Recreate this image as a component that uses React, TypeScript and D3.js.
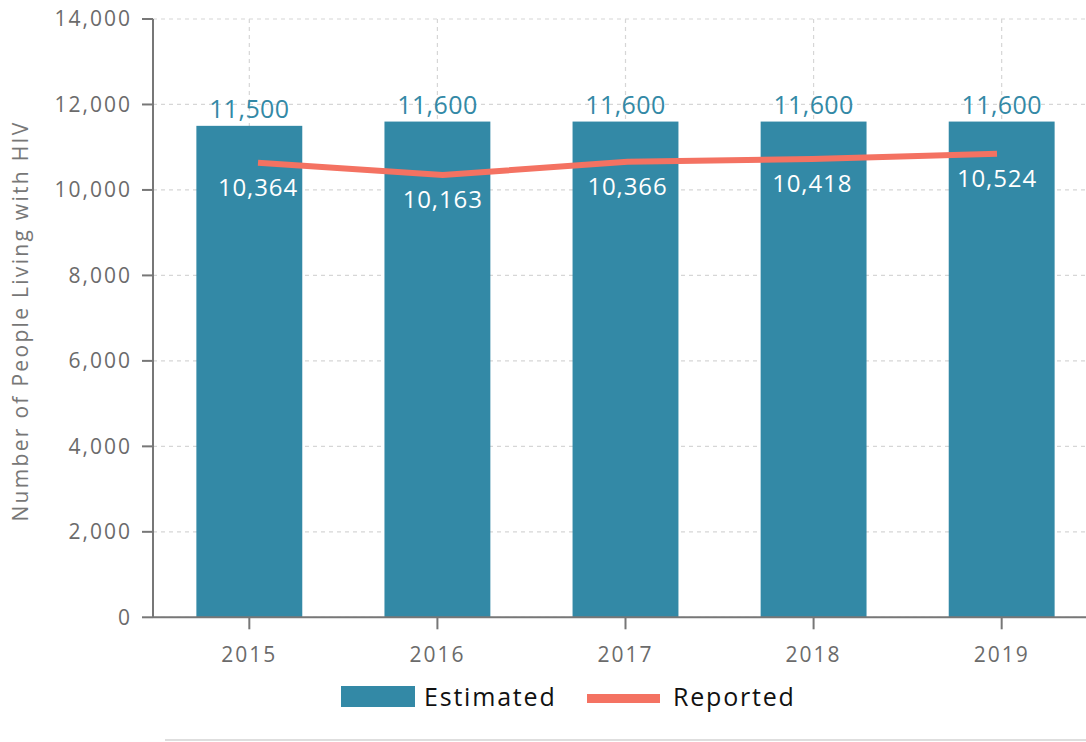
import React from "react";
import * as d3 from "d3";

const years = ["2015", "2016", "2017", "2018", "2019"];
const estimated = [11500, 11600, 11600, 11600, 11600];
const reportedLabels = [10364, 10163, 10366, 10418, 10524];
// line positions as drawn in the reference
const reportedLine = [10637, 10350, 10661, 10724, 10848];
const yTicks = [0, 2000, 4000, 6000, 8000, 10000, 12000, 14000];
const legendItems = ["Estimated", "Reported"];

const W = 1086;
const H = 742;
const FONT = "'Open Sans', 'DejaVu Sans', sans-serif";
const TEAL = "#3389a6";
const SALMON = "#f47262";

export default function App() {
  const y = d3.scaleLinear().domain([0, 14000]).range([617.3, 19]);
  const x = d3.scaleBand().domain(years).range([155, 1096]).paddingInner(0.437).paddingOuter(0.22);
  const xl = d3.scalePoint().domain(years).range([258, 997]);
  const fmt = d3.format(",");
  const lineGen = d3
    .line<number>()
    .x((_, i) => xl(years[i]) as number)
    .y((d) => y(d));
  const axisX = 153;
  const cx = (yr: string) => (x(yr) as number) + x.bandwidth() / 2;

  return (
    <svg
      width={W}
      height={H}
      style={{ position: "absolute", left: 0, top: 0, display: "block", fontFamily: FONT }}
    >
      <rect width={W} height={H} fill="#fff" />
      {yTicks.map((t) => (
        <line key={"g" + t} x1={axisX} x2={W} y1={y(t)} y2={y(t)} stroke="#d6d6d6" strokeDasharray="4,4" strokeWidth={1.2} />
      ))}
      {years.map((yr) => (
        <line key={"v" + yr} x1={cx(yr)} x2={cx(yr)} y1={y(14000)} y2={y(0)} stroke="#d6d6d6" strokeDasharray="4,4" strokeWidth={1.2} />
      ))}
      {years.map((yr, i) => (
        <rect key={"b" + yr} x={x(yr)} y={y(estimated[i])} width={x.bandwidth()} height={y(0) - y(estimated[i])} fill={TEAL} />
      ))}
      {years.map((yr, i) => (
        <text key={"bl" + yr} x={cx(yr)} y={y(estimated[i]) - 8} textAnchor="middle" fontSize={25} letterSpacing={0.4} fill={TEAL}>
          {fmt(estimated[i])}
        </text>
      ))}
      <path d={lineGen(reportedLine) || ""} fill="none" stroke={SALMON} strokeWidth={6} />
      {years.map((yr, i) => (
        <text key={"rl" + yr} x={xl(yr)} y={y(reportedLine[i]) + 33} textAnchor="middle" fontSize={24} letterSpacing={0.9} fill="#fff">
          {fmt(reportedLabels[i])}
        </text>
      ))}
      <line x1={axisX} x2={axisX} y1={y(14000)} y2={y(0)} stroke="#777" strokeWidth={2} />
      <line x1={axisX} x2={W} y1={y(0)} y2={y(0)} stroke="#777" strokeWidth={2} />
      {yTicks.map((t) => (
        <g key={"t" + t}>
          <line x1={142} x2={axisX} y1={y(t)} y2={y(t)} stroke="#777" strokeWidth={2} />
          <text x={132} y={y(t)} dy="0.35em" textAnchor="end" fontSize={21} letterSpacing={2} fill="#6b6b6b">
            {fmt(t)}
          </text>
        </g>
      ))}
      {years.map((yr) => (
        <g key={"xt" + yr}>
          <line x1={cx(yr)} x2={cx(yr)} y1={y(0)} y2={y(0) + 12} stroke="#777" strokeWidth={2} />
          <text x={cx(yr)} y={662} textAnchor="middle" fontSize={21} letterSpacing={2} fill="#6b6b6b">
            {yr}
          </text>
        </g>
      ))}
      <text transform={`translate(28,321) rotate(-90)`} textAnchor="middle" fontSize={21} letterSpacing={2.3} fill="#777">
        Number of People Living with HIV
      </text>
      <rect x={341} y={686} width={74} height={21} fill={TEAL} />
      <text x={424} y={706} fontSize={25} letterSpacing={1.8} fill="#111">{legendItems[0]}</text>
      <rect x={587} y={694} width={73} height={9} fill={SALMON} />
      <text x={673} y={706} fontSize={25} letterSpacing={1.8} fill="#111">{legendItems[1]}</text>
      <line x1={165} x2={W} y1={740} y2={740} stroke="#dedede" strokeWidth={2} />
    </svg>
  );
}
